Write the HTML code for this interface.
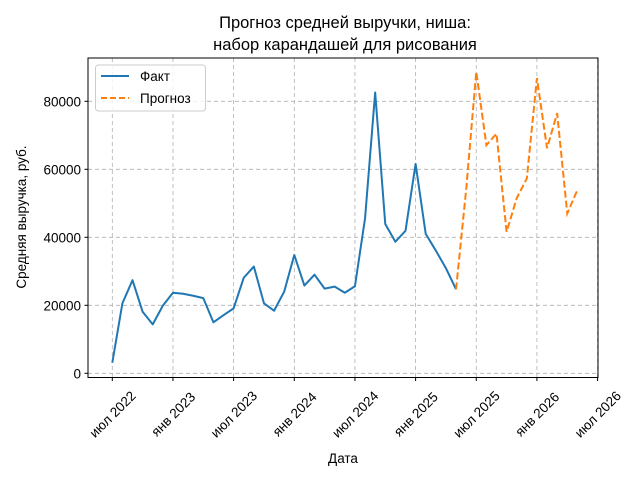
<!DOCTYPE html>
<html><head><meta charset="utf-8"><style>
body{margin:0;background:#fff;}
svg{font-family:"Liberation Sans","DejaVu Sans",sans-serif;}
</style></head><body>
<svg id="chart" width="640" height="480" viewBox="0 0 640 480">
<text x="345" y="28" font-size="16.5" text-anchor="middle">Прогноз средней выручки, ниша:</text>
<text x="345" y="50" font-size="16.5" text-anchor="middle">набор карандашей для рисования</text>
<text transform="translate(26,217) rotate(-90)" font-size="13.5" text-anchor="middle">Средняя выручка, руб.</text>
<text x="343" y="463" font-size="13.5" text-anchor="middle">Дата</text>
<g id="grid"></g>
<g id="ticks"></g>
<g id="series"></g>
<rect x="88" y="58" width="510" height="319.5" fill="none" stroke="#000" stroke-width="1"/>
<g>
<rect x="95.5" y="65" width="110" height="46" rx="3" fill="#fff" fill-opacity="0.8" stroke="#ccc"/>
<line x1="101" y1="76" x2="129" y2="76" stroke="#1f77b4" stroke-width="2"/>
<text x="140" y="81" font-size="13.5">Факт</text>
<line x1="101" y1="98" x2="129" y2="98" stroke="#ff7f0e" stroke-width="2" stroke-dasharray="6,3"/>
<text x="140" y="103" font-size="13.5">Прогноз</text>
</g>
</svg>
<script>
const factValues=[3100,20600,27400,18100,14400,19900,23700,23400,22800,22100,15000,17100,19100,28100,31400,20600,18400,24000,34800,25800,29000,24900,25500,23700,25600,45600,82600,43900,38700,41900,61600,41000,36100,30900,24700];
const forecastValues=[24700,54000,88700,67100,70500,41600,51500,57300,86800,66200,76500,47000,53900];
const forecastStart=34;
const yTicks=[0,20000,40000,60000,80000];
const xTickMonths=[0,6,12,18,24,30,36,42,48];
const xTickLabels=["июл 2022","янв 2023","июл 2023","янв 2024","июл 2024","янв 2025","июл 2025","янв 2026","июл 2026"];
const NS="http://www.w3.org/2000/svg";
function xs(m){return 112.3+m*10.11;}
function ys(v){return 373.3-v*0.0034;}
const grid=document.getElementById('grid'),ticks=document.getElementById('ticks'),series=document.getElementById('series');
function mk(tag,attrs,parent){const e=document.createElementNS(NS,tag);for(const k in attrs)e.setAttribute(k,attrs[k]);parent.appendChild(e);return e;}
yTicks.forEach(v=>{
 const g=mk('line',{x1:88,x2:598,y1:ys(v),y2:ys(v),stroke:'#b0b0b0','stroke-width':0.8,'stroke-dasharray':'4,3'},grid);
 
 
 const t=mk('line',{x1:84.5,x2:88,y1:ys(v),y2:ys(v),stroke:'#000'},ticks);
 
 
 const l=mk('text',{x:81,y:ys(v)+5,'font-size':13.5,'text-anchor':'end'},ticks);
 l.textContent=v;
 
 
});
xTickMonths.forEach((m,i)=>{
 const x=xs(m);
 const g=mk('line',{x1:x,x2:x,y1:58,y2:377.5,stroke:'#b0b0b0','stroke-width':0.8,'stroke-dasharray':'4,3'},grid);
 
 
 const t=mk('line',{x1:x,x2:x,y1:377.5,y2:381,stroke:'#000'},ticks);
 
 
 const l=mk('text',{transform:`translate(${x},${414}) rotate(-45)`,y:5,'font-size':13.5,'text-anchor':'middle'},ticks);
 l.textContent=xTickLabels[i];
 
 
});
const fp=factValues.map((v,i)=>xs(i)+','+ys(v)).join(' ');
const f=mk('polyline',{points:fp,fill:'none',stroke:'#1f77b4','stroke-width':2,'stroke-linejoin':'round'},series);


const pp=forecastValues.map((v,i)=>xs(forecastStart+i)+','+ys(v)).join(' ');
const p=mk('polyline',{points:pp,fill:'none',stroke:'#ff7f0e','stroke-width':2,'stroke-dasharray':'7,3'},series);


</script>
</body></html>
